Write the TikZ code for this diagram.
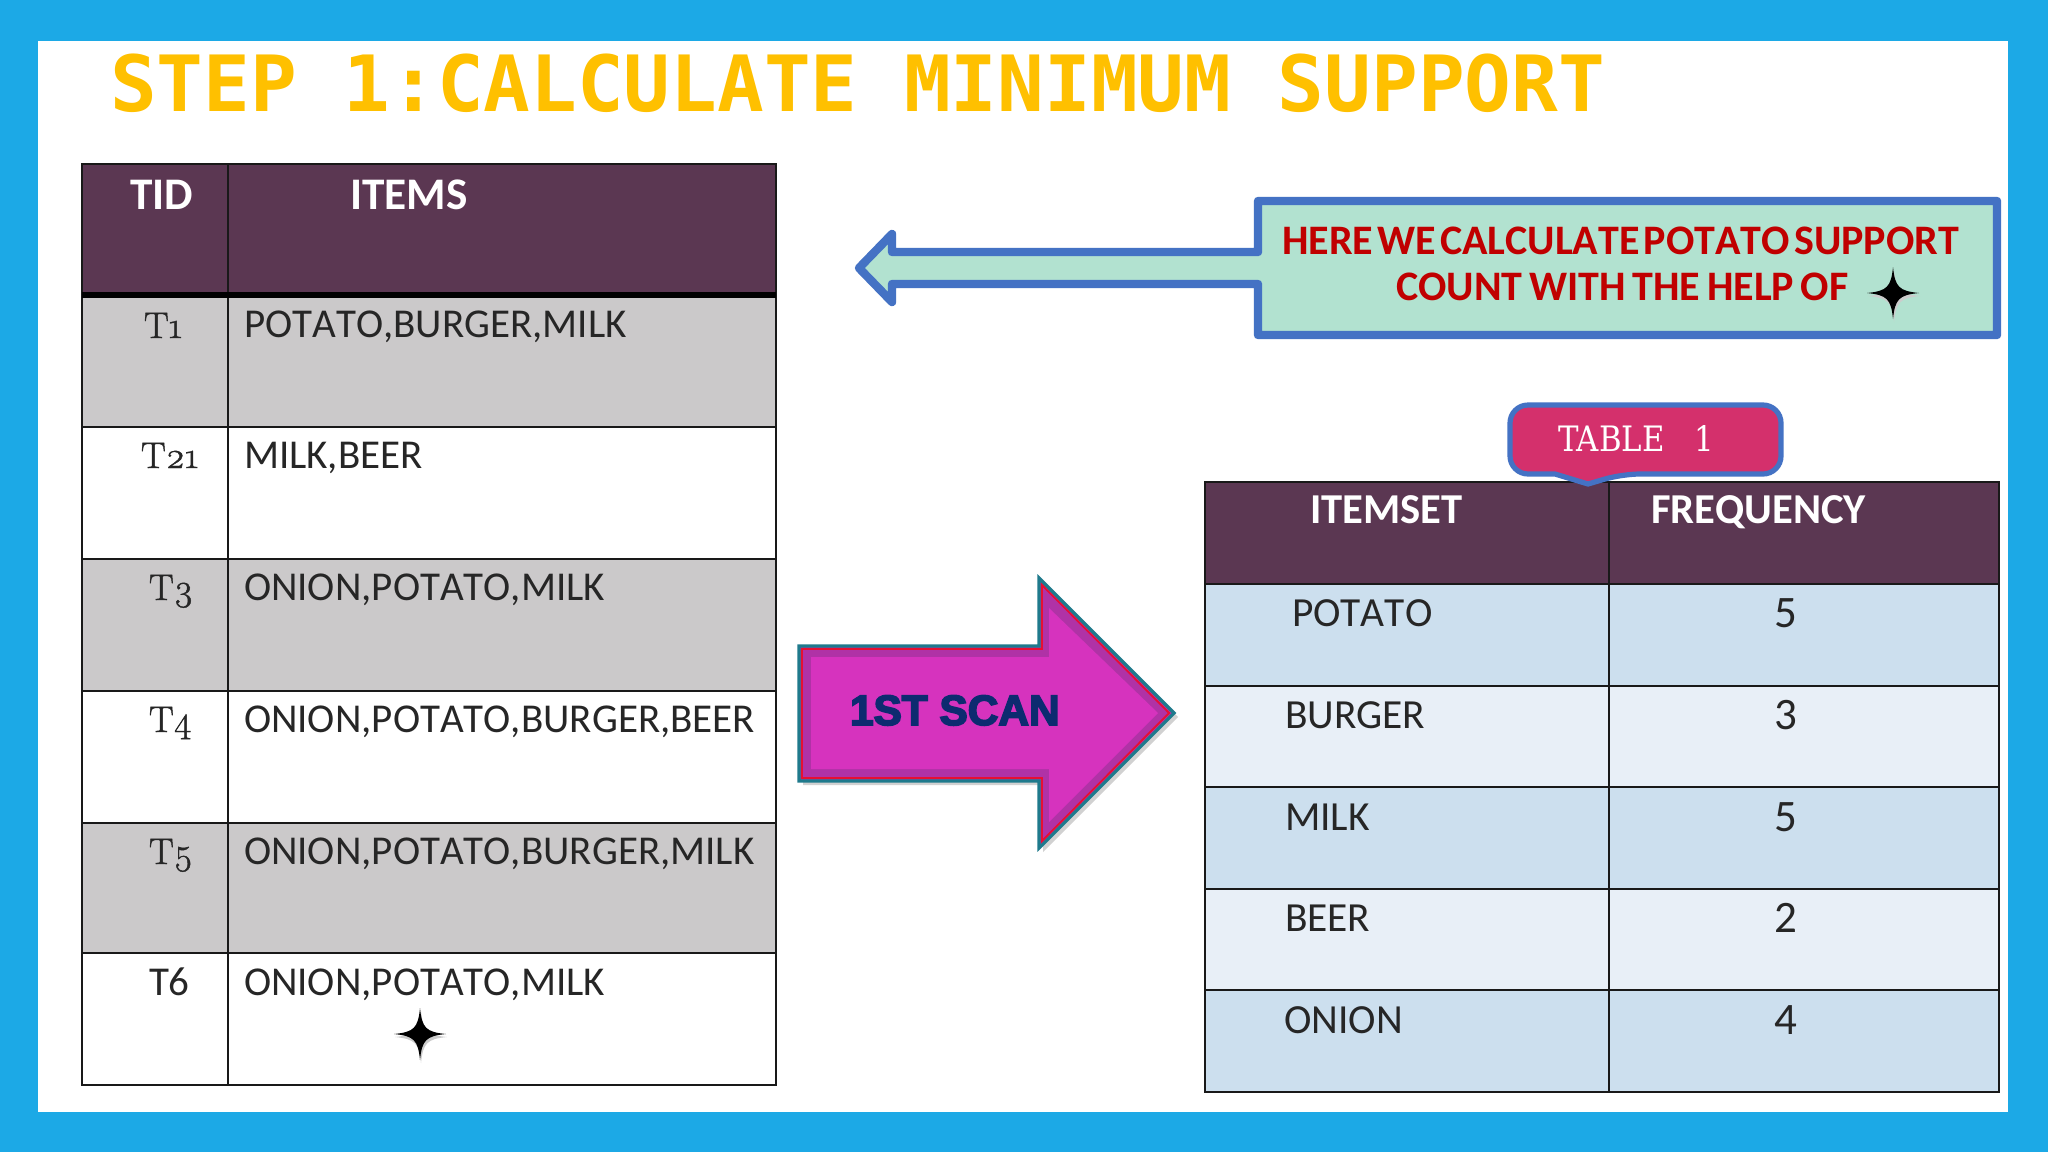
\documentclass[tikz,border=0pt]{standalone}
\usepackage{fontspec}
\usepackage{graphicx}
\setmainfont{Carlito}[Kerning=Off]
\newfontfamily\titlefont{DejaVu Sans Mono}[BoldFont={DejaVu Sans Mono Bold}]
\newfontfamily\oldfont{Latin Modern Roman}[Numbers=OldStyle,FakeBold=1.2]
\newfontfamily\slabfont{DejaVu Serif}
\newfontfamily\heavyfont{Liberation Sans Bold}[FakeBold=4]
\definecolor{framecol}{HTML}{1CA9E6}
\definecolor{titlecol}{HTML}{FFC000}
\definecolor{headcol}{HTML}{5B3752}
\definecolor{greycol}{HTML}{CBC9CA}
\definecolor{bluedark}{HTML}{CCDFEE}
\definecolor{bluelight}{HTML}{E8EFF7}
\definecolor{calloutfill}{HTML}{B2E2D0}
\definecolor{calloutline}{HTML}{4472C4}
\definecolor{pinkfill}{HTML}{D4306C}
\definecolor{magfill}{HTML}{D633BE}
\definecolor{magdark}{HTML}{B032A6}
\definecolor{tealline}{HTML}{1F7A8C}
\definecolor{redtext}{HTML}{C00000}
\definecolor{navytext}{HTML}{0D2B70}
\newcommand{\tightwords}[1]{\spaceskip=#1em\relax}
\tikzset{
  x=0.5pt,y=-0.5pt,
  lbl/.style={anchor=base west,inner sep=0pt,outer sep=0pt},
  celltext/.style={lbl,font=\fontsize{20.5}{22}\selectfont,text=black!85},
  tidold/.style={lbl,font=\oldfont\fontsize{18.5}{22}\selectfont,text=black!85},
  headleft/.style={lbl,font=\bfseries\fontsize{22.6}{24}\selectfont,text=white},
  headtext/.style={lbl,font=\bfseries\fontsize{21.3}{24}\selectfont,text=white},
  righttext/.style={lbl,font=\fontsize{20.7}{24}\selectfont,text=black!85},
  numtext/.style={anchor=base,inner sep=0pt,font=\fontsize{22.5}{24}\selectfont,text=black!85},
  rule/.style={line width=1.2pt,black!90},
  redline/.style={lbl,font=\bfseries\fontsize{21}{24}\selectfont,text=redtext},
  sparkle/.style={fill=black,draw=none},
}
\newcommand{\sparkshape}[2]{%
  \fill[black!20,shift={(#1+1,#2+3)}] (-26,0) .. controls (-6,-2) and (-2,-6) .. (0,-26) .. controls (2,-6) and (6,-2) .. (26,0) .. controls (6,2) and (2,6) .. (0,26) .. controls (-2,6) and (-6,2) .. (-26,0) -- cycle;
  \fill[sparkle,shift={(#1,#2)}] (-26,0) .. controls (-6,-2) and (-2,-6) .. (0,-26) .. controls (2,-6) and (6,-2) .. (26,0) .. controls (6,2) and (2,6) .. (0,26) .. controls (-2,6) and (-6,2) .. (-26,0) -- cycle;}
\begin{document}
\begin{tikzpicture}
\useasboundingbox (0,0) rectangle (2048,1152);
\fill[framecol] (0,0) rectangle (2048,1152);
\fill[white] (38,41) rectangle (2008,1112);
\node[lbl,font=\titlefont\bfseries\fontsize{38.8}{44}\selectfont,text=titlecol] (title) at (110,111) {STEP 1:CALCULATE MINIMUM SUPPORT};

% left table
\fill[headcol] (82,164) rectangle (776,295);
\fill[greycol] (82,295) rectangle (776,427);
\fill[greycol] (82,559) rectangle (776,691);
\fill[greycol] (82,823) rectangle (776,953);
\draw[rule] (82,164) rectangle (776,1085);
\draw[rule] (228,164) -- (228,1085);
\foreach \yy in {427,559,691,823,953} \draw[rule] (82,\yy) -- (776,\yy);
\draw[black,line width=2.6pt] (82,295) -- (776,295);
\node[headleft] (tid) at (130,209) {TID};
\node[headleft] (items) at (350,209) {ITEMS};
\node[tidold] (t1) at (144,338) {T1};
\node[tidold] (t21) at (141,468) {T21};
\node[tidold] (t3) at (149,600) {T3};
\node[tidold] (t4) at (149,732) {T4};
\node[tidold] (t5) at (149,864) {T5};
\node[celltext] (t6) at (149,995) {T6};
\node[celltext] (i1) at (244,337) {POTATO,BURGER,MILK};
\node[celltext] (i2) at (244,468) {MILK,BEER};
\node[celltext] (i3) at (244,600) {ONION,POTATO,MILK};
\node[celltext] (i4) at (244,732) {ONION,POTATO,BURGER,BEER};
\node[celltext] (i5) at (244,864) {ONION,POTATO,BURGER,MILK};
\node[celltext] (i6) at (244,995) {ONION,POTATO,MILK};
\sparkshape{420}{1034}

% callout with left arrow
\draw[line width=4.2pt,calloutline,fill=calloutfill,line join=round]
  (1258,201) -- (1997,201) -- (1997,335) -- (1258,335) -- (1258,284) -- (892,284) -- (892,302) -- (859,268) -- (892,234) -- (892,252) -- (1258,252) -- cycle;
\node[redline] (r1) at (1282,254) {\tightwords{0.10}HERE WE CALCULATE POTATO SUPPORT};
\node[redline] (r2) at (1396,300) {\tightwords{0.16}COUNT WITH THE HELP OF};
\sparkshape{1893}{293}

% right table
\fill[headcol] (1205,482) rectangle (1999,584);
\fill[bluedark] (1205,584) rectangle (1999,686);
\fill[bluelight] (1205,686) rectangle (1999,787);
\fill[bluedark] (1205,787) rectangle (1999,889);
\fill[bluelight] (1205,889) rectangle (1999,990);
\fill[bluedark] (1205,990) rectangle (1999,1092);
\draw[rule] (1205,482) rectangle (1999,1092);
\draw[rule] (1609,482) -- (1609,1092);
\foreach \yy in {584,686,787,889,990} \draw[rule] (1205,\yy) -- (1999,\yy);
\node[headtext] (h1) at (1310,523) {ITEMSET};
\node[headtext] (h2) at (1651,523) {FREQUENCY};
\node[righttext] (a1) at (1292,626) {POTATO};
\node[righttext] (a2) at (1285,728) {BURGER};
\node[righttext] (a3) at (1285,830) {MILK};
\node[righttext] (a4) at (1285,931) {BEER};
\node[righttext] (a5) at (1284,1033) {ONION};
\node[numtext] (n1) at (1786,627) {5};
\node[numtext] (n2) at (1786,729) {3};
\node[numtext] (n3) at (1786,831) {5};
\node[numtext] (n4) at (1786,932) {2};
\node[numtext] (n5) at (1786,1034) {4};

% table 1 tag
\draw[line width=2.6pt,calloutline,fill=pinkfill,rounded corners=9pt]
  (1510,405) -- (1781,405) -- (1781,474) -- (1622,474) [sharp corners] -- (1588,484) -- (1555,474) [rounded corners=9pt] -- (1510,474) -- cycle;
\node[lbl,text=white] (tag) at (1558,451) {\slabfont\fontsize{17.5}{20}\selectfont\scalebox{0.88}[1]{TABLE\ \ \ 1}};

% big arrow
\fill[black!18] (803,650) -- (1043,650) -- (1043,582) -- (1178,717) -- (1043,852) -- (1043,785) -- (803,785) -- cycle;
\draw[line width=1.6pt,tealline,fill=magdark,line join=miter]
  (799,646) -- (1039,646) -- (1039,578) -- (1174,713) -- (1039,848) -- (1039,781) -- (799,781) -- cycle;
\draw[line width=0.9pt,red!70!magdark,line join=miter]
  (802,649) -- (1042,649) -- (1042,585) -- (1169,713) -- (1042,841) -- (1042,778) -- (802,778) -- cycle;
\fill[magfill] (811,657) -- (1049,657) -- (1049,608) -- (1158,713) -- (1049,822) -- (1049,769) -- (811,769) -- cycle;
\node[lbl,font=\heavyfont\fontsize{21.2}{24}\selectfont,text=navytext] (scan) at (850,725) {1ST SCAN};
\end{tikzpicture}
\end{document}
